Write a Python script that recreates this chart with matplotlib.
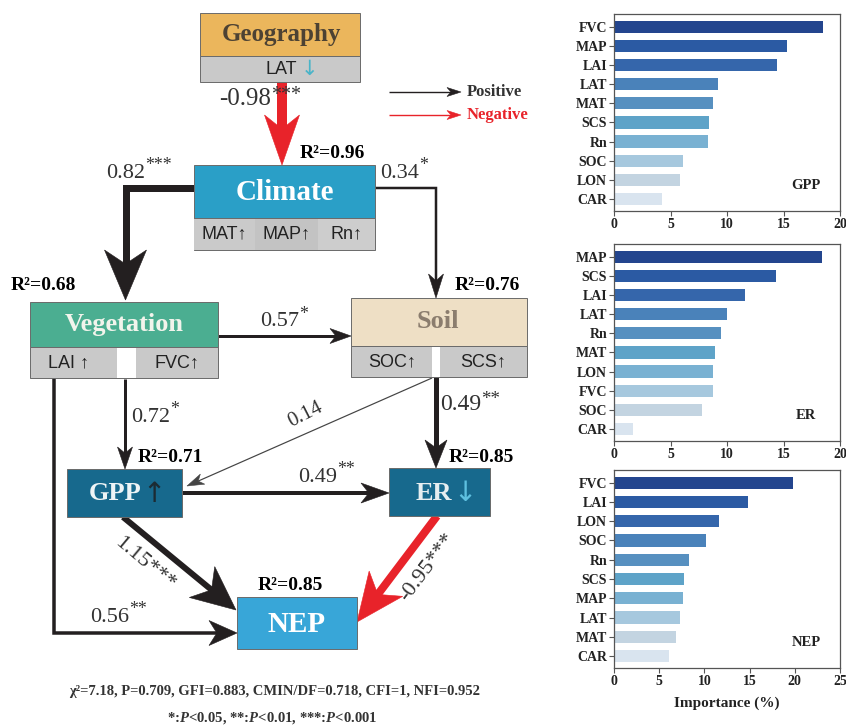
import numpy as np
import matplotlib
matplotlib.use('Agg')
import matplotlib.pyplot as plt
from matplotlib.patches import Rectangle, Polygon

plt.rcParams['font.family'] = ['Liberation Serif', 'DejaVu Serif']
plt.rcParams['mathtext.fontset'] = 'custom'
plt.rcParams['mathtext.rm'] = 'Liberation Serif'
plt.rcParams['mathtext.it'] = 'Liberation Serif:italic'
plt.rcParams['mathtext.bf'] = 'Liberation Serif:bold'
try:
    plt.rcParams['mathtext.bfit'] = 'Liberation Serif:italic:bold'
    PIT = r'$\mathbfit{P}$'
except KeyError:
    PIT = r'$\mathit{P}$'

# ---------------- data ----------------
gpp_vars = ['FVC', 'MAP', 'LAI', 'LAT', 'MAT', 'SCS', 'Rn', 'SOC', 'LON', 'CAR']
gpp_imp = [18.5, 15.3, 14.4, 9.2, 8.8, 8.4, 8.3, 6.1, 5.8, 4.25]
er_vars = ['MAP', 'SCS', 'LAI', 'LAT', 'Rn', 'MAT', 'LON', 'FVC', 'SOC', 'CAR']
er_imp = [18.4, 14.3, 11.55, 10.0, 9.5, 8.95, 8.8, 8.8, 7.8, 1.7]
nep_vars = ['FVC', 'LAI', 'LON', 'SOC', 'Rn', 'SCS', 'MAP', 'LAT', 'MAT', 'CAR']
nep_imp = [19.8, 14.8, 11.6, 10.2, 8.3, 7.75, 7.6, 7.35, 6.9, 6.05]

r2_values = {'Climate': 0.96, 'Vegetation': 0.68, 'Soil': 0.76, 'GPP': 0.71, 'ER': 0.85, 'NEP': 0.85}
path_coefs = {
    ('Geography', 'Climate'): (-0.98, '***'),
    ('Climate', 'Vegetation'): (0.82, '***'),
    ('Climate', 'Soil'): (0.34, '*'),
    ('Vegetation', 'Soil'): (0.57, '*'),
    ('Vegetation', 'GPP'): (0.72, '*'),
    ('Vegetation', 'NEP'): (0.56, '**'),
    ('Soil', 'ER'): (0.49, '**'),
    ('Soil', 'GPP'): (0.14, ''),
    ('GPP', 'ER'): (0.49, '**'),
    ('GPP', 'NEP'): (1.15, '***'),
    ('ER', 'NEP'): (-0.95, '***'),
}
fit_text = 'χ²=7.18, P=0.709, GFI=0.883, CMIN/DF=0.718, CFI=1, NFI=0.952'

bar_colors = ['#23458e', '#2b5aa3', '#3566ab', '#4a82ba', '#5790c0',
              '#5ea3c8', '#79b1d2', '#a6c8de', '#c3d4e1', '#d9e4ef']

BLACK = '#231f20'
RED = '#e8232a'
GRAY = '#c9c9c9'
EDGE = '#6a6a6a'

fig = plt.figure(figsize=(8.46, 7.26), dpi=100)
fig.patch.set_facecolor('white')

# ---------------- diagram (pixel coords) ----------------
ax = fig.add_axes([0, 0, 1, 1])
ax.set_xlim(0, 846)
ax.set_ylim(726, 0)
ax.axis('off')


def pt(px):
    return px * 0.72


def draw_arrow(pts, w, color, hl, hw, notch=0.28, z=2):
    pts = np.array(pts, float)
    tip = pts[-1]
    prev = pts[-2]
    d = tip - prev
    d /= np.linalg.norm(d)
    n = np.array([-d[1], d[0]])
    base = tip - d * hl
    shaft = np.vstack([pts[:-1], base + d * hl * notch * 1.2])
    ax.plot(shaft[:, 0], shaft[:, 1], color=color, lw=pt(w),
            solid_capstyle='butt', solid_joinstyle='miter', zorder=z)
    head = [tip, base + n * hw / 2, base + d * hl * notch, base - n * hw / 2]
    ax.add_patch(Polygon(head, closed=True, fc=color, ec=color, lw=0.4, zorder=z + 1))


def box(x0, x1, yt, ym, yb, color, gray_sections=None, gaps=()):
    ax.add_patch(Rectangle((x0, yt), x1 - x0, ym - yt, fc=color, ec=EDGE, lw=0.7, zorder=4))
    if yb is not None:
        ax.add_patch(Rectangle((x0, ym), x1 - x0, yb - ym, fc=GRAY, ec=EDGE, lw=0.7, zorder=4))
        if gray_sections:
            for (a, b, c) in gray_sections:
                ax.add_patch(Rectangle((a, ym + 0.5), b - a, yb - ym - 1, fc=c, ec='none', zorder=4.1))
        for (a, b) in gaps:
            ax.add_patch(Rectangle((a, ym + 0.5), b - a, yb - ym - 1, fc='white', ec='none', zorder=4.2))


def coef_label(x, y, key, size=16, rise=0.45, color='#333333'):
    v, stars = path_coefs[key]
    num = f'{v:.2f}'
    t = ax.text(x, y, num, fontsize=size, ha='left', va='center', color=color, zorder=6)
    if stars:
        ax.annotate(stars, xy=(1, rise), xycoords=t, fontsize=size * 0.8,
                    ha='left', va='bottom', color=color, zorder=6)


def r2_label(x, y, node):
    ax.text(x, y, f'R²={r2_values[node]:.2f}', fontsize=14, fontweight='bold',
            ha='left', va='center', color='black', zorder=6)


SANS = ['Liberation Sans', 'DejaVu Sans']

# --- boxes
box(200, 360, 13, 56, 82, '#ebb65c')
ax.text(281, 35, 'Geography', fontsize=18, fontweight='bold', color='#4d4233',
        ha='center', va='center', zorder=6)
ax.text(297, 69, 'LAT', fontsize=13, family=SANS, color='#222222', ha='right', va='center', zorder=6)
ax.text(301, 69, '↓', fontsize=15, family=['DejaVu Sans'], color='#4ab4c8', ha='left', va='center', zorder=6)

box(194, 375, 165, 218, 250, '#2a9fc7',
    gray_sections=[(194, 255, '#cacaca'), (255, 318, '#c3c3c3'), (318, 375, '#cdcdcd')])
ax.text(285, 192, 'Climate', fontsize=21, fontweight='bold', color='white',
        ha='center', va='center', zorder=6)
for x, s in [(224, 'MAT↑'), (286, 'MAP↑'), (346, 'Rn↑')]:
    ax.text(x, 234, s, fontsize=13, family=SANS, color='#222222', ha='center', va='center', zorder=6)

box(30, 218, 302, 347, 378, '#4bae91', gaps=[(117, 136)])
ax.text(124, 324, 'Vegetation', fontsize=19, fontweight='bold', color='#f2f4ec',
        ha='center', va='center', zorder=6)
ax.text(68, 363, 'LAI ↑', fontsize=13, family=SANS, color='#222222', ha='center', va='center', zorder=6)
ax.text(177, 363, 'FVC↑', fontsize=13, family=SANS, color='#222222', ha='center', va='center', zorder=6)

box(351, 527, 298, 346, 377, '#eedfc5', gaps=[(432, 440)])
ax.text(438, 321, 'Soil', fontsize=19, fontweight='bold', color='#8b7d6e',
        ha='center', va='center', zorder=6)
ax.text(392, 362, 'SOC↑', fontsize=13, family=SANS, color='#222222', ha='center', va='center', zorder=6)
ax.text(483, 362, 'SCS↑', fontsize=13, family=SANS, color='#222222', ha='center', va='center', zorder=6)

box(67, 182, 469, 517, None, '#17698d')
ax.text(142, 494, 'GPP', fontsize=19, fontweight='bold', color='#eef4f6', ha='right', va='center', zorder=6)
ax.text(142, 494, '↑', fontsize=20, family=['DejaVu Sans'], color='#1c2b33', ha='left', va='center', zorder=6)

box(389, 490, 468, 516, None, '#17698d')
ax.text(452, 493, 'ER', fontsize=19, fontweight='bold', color='#e6eef0', ha='right', va='center', zorder=6)
ax.text(453, 493, '↓', fontsize=20, family=['DejaVu Sans'], color='#5ec0e0', ha='left', va='center', zorder=6)

box(237, 357, 597, 649, None, '#38a6d8')
ax.text(297, 624, 'NEP', fontsize=21, fontweight='bold', color='white', ha='center', va='center', zorder=6)

# --- R2 labels
r2_label(300, 153, 'Climate')
r2_label(11, 285, 'Vegetation')
r2_label(455, 285, 'Soil')
r2_label(138, 458, 'GPP')
r2_label(449, 458, 'ER')
r2_label(258, 585, 'NEP')

# --- arrows
draw_arrow([(282, 82), (282, 165)], 10, RED, 50, 35)
draw_arrow([(194, 188), (125.5, 188), (125.5, 300)], 7, BLACK, 50, 42)
draw_arrow([(375, 188), (436, 188), (436, 298)], 2.5, BLACK, 24, 15)
draw_arrow([(218, 336), (351, 336)], 3, BLACK, 21, 15)
draw_arrow([(125, 379), (125, 469)], 3, BLACK, 22, 15)
draw_arrow([(54, 378), (54, 633), (237, 633)], 3.5, BLACK, 28, 25)
draw_arrow([(436, 377), (436, 468)], 5, BLACK, 28, 22)
draw_arrow([(432, 378), (187, 486)], 1.2, '#444444', 17, 11)
draw_arrow([(182, 493), (389, 493)], 4, BLACK, 28, 20)
draw_arrow([(123, 517), (236, 610)], 6, BLACK, 44, 40)
draw_arrow([(437, 516), (357, 622)], 8, RED, 48, 42)

# legend
draw_arrow([(389, 92), (461, 92)], 1.4, BLACK, 14, 9)
draw_arrow([(389, 115), (461, 115)], 1.4, RED, 14, 9)
ax.text(467, 92, 'Positive', fontsize=12, fontweight='bold', color='#333333', ha='left', va='center')
ax.text(467, 115, 'Negative', fontsize=12, fontweight='bold', color=RED, ha='left', va='center')

# --- coefficient labels
coef_label(219, 99, ('Geography', 'Climate'), size=18, rise=0.25)
coef_label(106, 173, ('Climate', 'Vegetation'))
coef_label(380, 173, ('Climate', 'Soil'))
coef_label(260, 322, ('Vegetation', 'Soil'))
coef_label(131, 417, ('Vegetation', 'GPP'))
coef_label(440, 405, ('Soil', 'ER'), size=17, rise=0.35)
coef_label(298, 477, ('GPP', 'ER'))
coef_label(90, 617, ('Vegetation', 'NEP'))
ax.text(305, 415, f"{path_coefs[('Soil', 'GPP')][0]:.2f}", fontsize=15, rotation=27,
        ha='center', va='center', color='#333333', zorder=6)
v, s = path_coefs[('GPP', 'NEP')]
ax.text(145, 564, f'{v:.2f}{s}', fontsize=16, rotation=-40, ha='center', va='center',
        color='#333333', zorder=6)
v, s = path_coefs[('ER', 'NEP')]
ax.text(428, 567, f'{v:.2f}{s}', fontsize=16, rotation=53, ha='center', va='center',
        color='#333333', zorder=6)

# --- footer
ax.text(275, 692, fit_text, fontsize=10.5, fontweight='bold', color='#333333',
        ha='center', va='center')
ax.text(272, 718, f'*:{PIT}<0.05, **:{PIT}<0.01, ***:{PIT}<0.001', fontsize=10.5,
        fontweight='bold', color='#333333', ha='center', va='center')

# ---------------- bar charts ----------------
W, H = 846.0, 726.0


def bar_panel(rect_px, names, vals, label, xmax, xlabel=None):
    x0, y0, x1, y1 = rect_px
    a = fig.add_axes([x0 / W, 1 - y1 / H, (x1 - x0) / W, (y1 - y0) / H])
    pos = np.arange(len(names))
    a.barh(pos, vals, height=0.64, color=bar_colors[:len(names)])
    a.set_ylim(9.62, -0.66)
    a.set_xlim(0, xmax)
    a.set_xticks(np.arange(0, xmax + 1, 5))
    a.set_yticks(pos)
    a.set_yticklabels(names)
    for sp in a.spines.values():
        sp.set_color('#555555')
        sp.set_linewidth(0.9)
    a.tick_params(axis='both', length=3.5, width=0.8, color='#555555', labelsize=10, pad=1.5,
                  labelcolor='#222222')
    for t in a.get_xticklabels() + a.get_yticklabels():
        t.set_fontweight('bold')
    a.text(0.85, 0.13, label, transform=a.transAxes, fontsize=10.5, fontweight='bold',
           ha='center', va='center', color='#222222')
    if xlabel:
        a.set_xlabel(xlabel, fontsize=11, fontweight='bold', color='#222222', labelpad=6)
    return a


bar_panel((614, 14, 840, 211), gpp_vars, gpp_imp, 'GPP', 20)
bar_panel((614, 244, 840, 441), er_vars, er_imp, 'ER', 20)
bar_panel((614, 470, 840, 668), nep_vars, nep_imp, 'NEP', 25, 'Importance (%)')

fig.savefig('out.png', dpi=100, facecolor='white')
